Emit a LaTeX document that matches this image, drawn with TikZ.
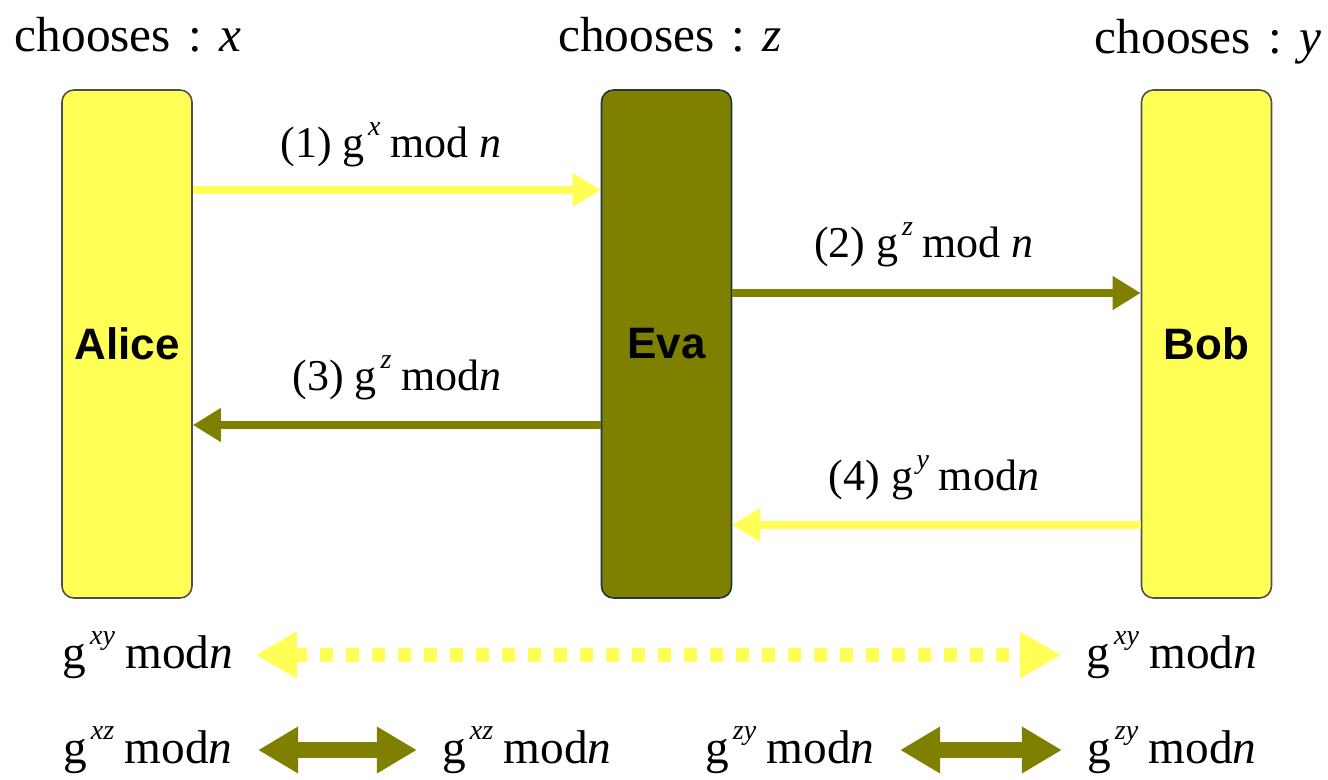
\documentclass[tikz,border=0pt]{standalone}
\usepackage{fontspec}
\setmainfont{Liberation Serif}
\newfontfamily\boxfont{Liberation Sans}
\usetikzlibrary{arrows.meta}
\definecolor{ylw}{HTML}{FFFF55}
\definecolor{olv}{HTML}{808000}
\definecolor{yborder}{HTML}{505050}
\definecolor{oborder}{HTML}{203838}
\newcommand{\myexp}[1]{\hspace{0.08em}\raisebox{0.5em}{\fontsize{21}{21}\selectfont\textit{#1}}\hspace{0.22em}}
\begin{document}
\begin{tikzpicture}[x=0.75pt,y=-0.75pt,
  party/.style={rounded corners=9pt, minimum width=97.5pt, minimum height=381pt, line width=1.2pt, font=\boxfont\bfseries\fontsize{33}{36}\selectfont, inner sep=0pt},
  lbl/.style={font=\fontsize{33}{38}\selectfont, inner sep=0pt},
  keylbl/.style={font=\fontsize{35.5}{40}\selectfont, inner sep=0pt},
  toplbl/.style={font=\fontsize{37}{42}\selectfont, inner sep=0pt},
  msg/.style={line width=6.5pt, -{Triangle[length=21pt,width=24pt]}},
  shared/.style={line width=11pt, dash pattern=on 9.75pt off 9.75pt, {Triangle[length=31pt,width=33pt]}-{Triangle[length=31pt,width=33pt]}},
  twin/.style={line width=12pt, {Triangle[length=30pt,width=33pt]}-{Triangle[length=30pt,width=33pt]}},
  ]
\useasboundingbox (0,0) rectangle (1328,779);
% parties
\node[party, fill=ylw, draw=yborder] (alice) at (127,344) {Alice};
\node[party, fill=olv, draw=oborder] (eva) at (666.5,344) {Eva};
\node[party, fill=ylw, draw=yborder] (bob) at (1206.5,344) {Bob};
% choices
\node[toplbl] (ca) at (128,35) {chooses\hspace{0.35em}:\hspace{0.35em}\textit{x}};
\node[toplbl] (ce) at (670,35) {chooses\hspace{0.35em}:\hspace{0.35em}\textit{z}};
\node[toplbl] (cb) at (1208,42) {chooses\hspace{0.35em}:\hspace{0.35em}\textit{y}};
% messages
\node[lbl] (l1) at (391,145) {(1) g\myexp{x}mod \textit{n}};
\node[lbl] (l2) at (924,245) {(2) g\myexp{z}mod \textit{n}};
\node[lbl] (l3) at (397,378) {(3) g\myexp{z}mod\textit{n}};
\node[lbl] (l4) at (934,478) {(4) g\myexp{y}mod\textit{n}};
\draw[msg, ylw] (alice.east |- 0,190) -- (eva.west |- 0,190);
\draw[msg, olv] (eva.east |- 0,293) -- (bob.west |- 0,293);
\draw[msg, olv] (eva.west |- 0,425) -- (alice.east |- 0,425);
\draw[msg, ylw] (bob.west |- 0,525) -- (eva.east |- 0,525);
% shared keys
\node[keylbl] (b1) at (148,655) {g\myexp{xy}mod\textit{n}};
\node[keylbl] (b2) at (1172,655) {g\myexp{xy}mod\textit{n}};
\draw[shared, ylw] ([xshift=16.5pt]b1.east) -- ([xshift=-19pt]b2.west);
\node[keylbl] (c1) at (148,750) {g\myexp{xz}mod\textit{n}};
\node[keylbl] (c2) at (527,750) {g\myexp{xz}mod\textit{n}};
\node[keylbl] (c3) at (790,750) {g\myexp{zy}mod\textit{n}};
\node[keylbl] (c4) at (1172,750) {g\myexp{zy}mod\textit{n}};
\draw[twin, olv] ([xshift=19pt]c1.east) -- ([xshift=-19pt]c2.west);
\draw[twin, olv] ([xshift=19pt]c3.east) -- ([xshift=-19pt]c4.west);
\end{tikzpicture}
\end{document}
